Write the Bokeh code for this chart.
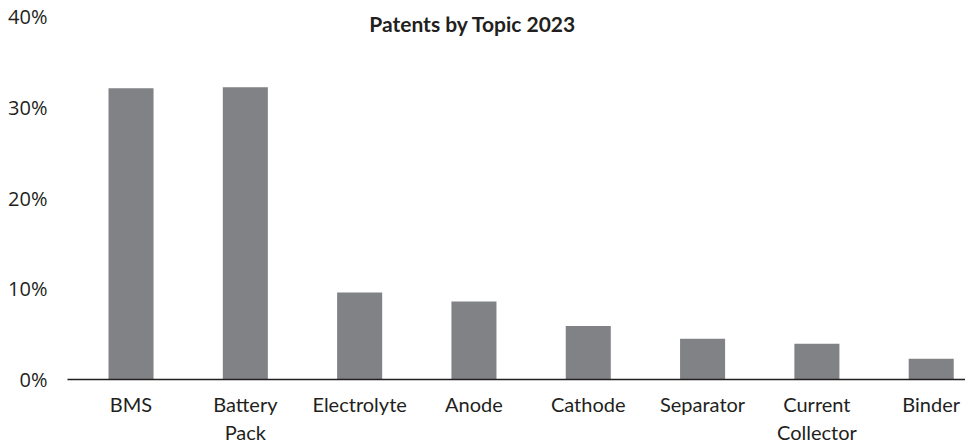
from bokeh.plotting import figure
from bokeh.models import Range1d, FixedTicker, PrintfTickFormatter, Label
from bokeh.embed import file_html
from bokeh.resources import INLINE
import numpy as np

categories = ["BMS", "Battery\nPack", "Electrolyte", "Anode", "Cathode",
              "Separator", "Current\nCollector", "Binder"]
values = [32.1, 32.2, 9.6, 8.6, 5.9, 4.5, 3.95, 2.3]
y_ticks = [0, 10, 20, 30, 40]
title_text = "Patents by Topic 2023"

xs = np.arange(len(categories)) + 0.5

p = figure(width=965, height=447, output_backend="svg", toolbar_location=None,
           x_range=Range1d(-0.0556, 7.80), y_range=Range1d(0, 40),
           min_border_left=67, min_border_right=0, min_border_top=16,
           min_border_bottom=68)
p.outline_line_color = None
p.xgrid.visible = False
p.ygrid.visible = False
p.background_fill_color = "white"
p.border_fill_color = "white"

p.vbar(x=xs, top=values, width=0.394, bottom=0, color="#808285", line_color=None)

# y axis
p.yaxis.ticker = FixedTicker(ticks=y_ticks)
p.yaxis.formatter = PrintfTickFormatter(format="%d%%")
p.yaxis.axis_line_color = None
p.yaxis.major_tick_line_color = None
p.yaxis.minor_tick_line_color = None
p.yaxis.major_label_standoff = 14
p.yaxis.major_label_text_font = "Open Sans"
p.yaxis.major_label_text_font_size = "20px"
p.yaxis.major_label_text_color = "#231f20"

# x axis
p.xaxis.ticker = FixedTicker(ticks=list(xs))
p.xaxis.major_label_overrides = {float(x): c for x, c in zip(xs, categories)}
p.xaxis.axis_line_color = "#231f20"
p.xaxis.axis_line_width = 1.5
p.xaxis.major_tick_line_color = None
p.xaxis.minor_tick_line_color = None
p.xaxis.major_label_standoff = 6
p.xaxis.major_label_text_font = "Lato"
p.xaxis.major_label_text_font_size = "20px"
p.xaxis.major_label_text_color = "#231f20"

p.add_layout(Label(x=3.49, y=39.2, text=title_text, text_align="center",
                   text_baseline="middle", text_font="Lato", text_font_style="bold",
                   text_font_size="21px", text_color="#231f20"))

open("out.html", "w").write(file_html(p, INLINE))
